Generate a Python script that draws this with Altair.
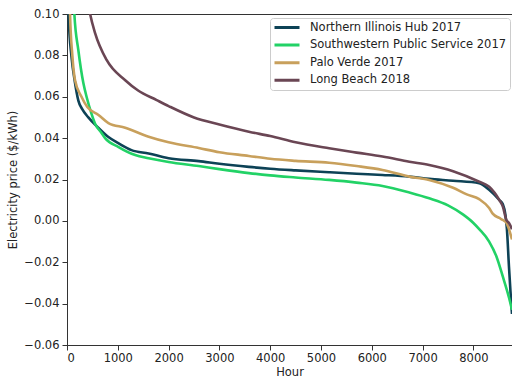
import altair as alt
import pandas as pd

series_names = [
    "Northern Illinois Hub 2017",
    "Southwestern Public Service 2017",
    "Palo Verde 2017",
    "Long Beach 2018",
]
series_colors = ["#0d4256", "#22d266", "#c8a05c", "#6a4654"]

nih_hours = [0, 30, 90, 150, 225, 300, 420, 620, 815, 1000, 1270, 1607, 2000, 2593, 3000,
             3580, 4000, 4500, 5160, 5700, 6210, 6740, 7130, 7600, 8115, 8310, 8510, 8580,
             8630, 8660, 8700, 8730, 8760]
nih_price = [0.16, 0.10, 0.079, 0.068, 0.058, 0.054, 0.050, 0.0449, 0.0405, 0.0377, 0.0342,
             0.0326, 0.0303, 0.0289, 0.0276, 0.0261, 0.0252, 0.0244, 0.0235, 0.0228, 0.0222,
             0.0214, 0.0203, 0.0194, 0.0182, 0.0150, 0.0101, 0.0080, 0.0030, -0.0040,
             -0.0220, -0.0340, -0.0450]

sps_hours = [0, 145, 223, 322, 385, 480, 553, 680, 750, 1015, 1343, 1607, 2000, 2593, 3000,
             3580, 4000, 4500, 5160, 5700, 6210, 6740, 7130, 7500, 7800, 8000, 8115, 8310,
             8450, 8580, 8700, 8760]
sps_price = [0.30, 0.10, 0.0826, 0.0666, 0.060, 0.052, 0.047, 0.0425, 0.040, 0.0357, 0.0318,
             0.0303, 0.0285, 0.0265, 0.0250, 0.0231, 0.0220, 0.0210, 0.0198, 0.0185, 0.0169,
             0.0137, 0.0109, 0.0075, 0.0030, -0.0010, -0.0040, -0.0100, -0.0170, -0.0270,
             -0.0370, -0.0430]

pv_hours = [0, 60, 105, 158, 285, 400, 620, 815, 1146, 1607, 2000, 2593, 3000, 3580, 4000,
            4500, 5160, 5700, 6210, 6740, 7130, 7600, 7870, 8115, 8310, 8380, 8510, 8580,
            8650, 8700, 8760]
pv_price = [0.20, 0.10, 0.080, 0.068, 0.060, 0.055, 0.0512, 0.0473, 0.0450, 0.0407, 0.0380,
            0.0352, 0.0332, 0.0314, 0.0300, 0.0290, 0.0281, 0.0265, 0.0246, 0.0214, 0.0198,
            0.0160, 0.0128, 0.0105, 0.0062, 0.0035, 0.0014, 0.0004, -0.0010, -0.0040,
            -0.0090]

lb_hours = [0, 200, 455, 553, 780, 1146, 1400, 1765, 2000, 2500, 3000, 3580, 4000, 4500,
            5160, 5700, 6210, 6740, 7130, 7600, 8115, 8310, 8510, 8580, 8650, 8700, 8760]
lb_price = [0.25, 0.15, 0.10, 0.0908, 0.0778, 0.068, 0.0630, 0.0584, 0.0555, 0.0500, 0.0466,
            0.0431, 0.0410, 0.0380, 0.0351, 0.0330, 0.0311, 0.0286, 0.0270, 0.0240, 0.0189,
            0.0165, 0.0101, 0.0069, 0.0004, -0.0010, -0.0040]

x_ticks = [0, 1000, 2000, 3000, 4000, 5000, 6000, 7000, 8000]
y_ticks = [-0.06, -0.04, -0.02, 0.00, 0.02, 0.04, 0.06, 0.08, 0.10]

frames = []
for name, hrs, prc in zip(series_names,
                          [nih_hours, sps_hours, pv_hours, lb_hours],
                          [nih_price, sps_price, pv_price, lb_price]):
    frames.append(pd.DataFrame({"hour": hrs, "price": prc, "series": name}))
df = pd.concat(frames, ignore_index=True)

font = "DejaVu Sans"
fs = 11.5

chart = alt.Chart(df).mark_line(
    strokeWidth=2.6, interpolate="monotone", clip=True
).encode(
    x=alt.X("hour:Q", scale=alt.Scale(domain=[0, 8760], nice=False, zero=False),
            axis=alt.Axis(title="Hour", values=x_ticks, format="d", grid=False,
                          tickSize=5, labelPadding=2, titlePadding=3)),
    y=alt.Y("price:Q", scale=alt.Scale(domain=[-0.06, 0.10], nice=False, zero=False),
            axis=alt.Axis(title="Electricity price ($/kWh)", values=y_ticks, format=".2f",
                          grid=False, tickSize=5, labelPadding=3, titlePadding=5)),
    color=alt.Color("series:N", scale=alt.Scale(domain=series_names, range=series_colors),
                    sort=series_names,
                    legend=alt.Legend(title=None, orient="none", legendX=203, legendY=4,
                                      symbolType="stroke", symbolSize=625,
                                      symbolStrokeWidth=3, labelFontSize=fs,
                                      labelFont=font, labelColor="#222222",
                                      strokeColor="#cccccc", fillColor="white",
                                      padding=3, rowPadding=4.6, clipHeight=13,
                                      cornerRadius=3, labelOffset=9, labelLimit=300)),
    detail="series:N",
).properties(
    width=445, height=331,
    autosize=alt.AutoSizeParams(type="none"),
    padding={"left": 67, "top": 14, "right": 0, "bottom": 36},
).configure_view(
    stroke="#333333", strokeWidth=1
).configure_axis(
    labelFont=font, titleFont=font, labelFontSize=fs, titleFontSize=fs,
    labelColor="#222222", titleColor="#222222", titleFontWeight="normal",
    domainColor="#333333", tickColor="#333333", domainWidth=1, tickWidth=1,
)

chart.save("out.html", embed_options={"renderer": "svg", "actions": False})
